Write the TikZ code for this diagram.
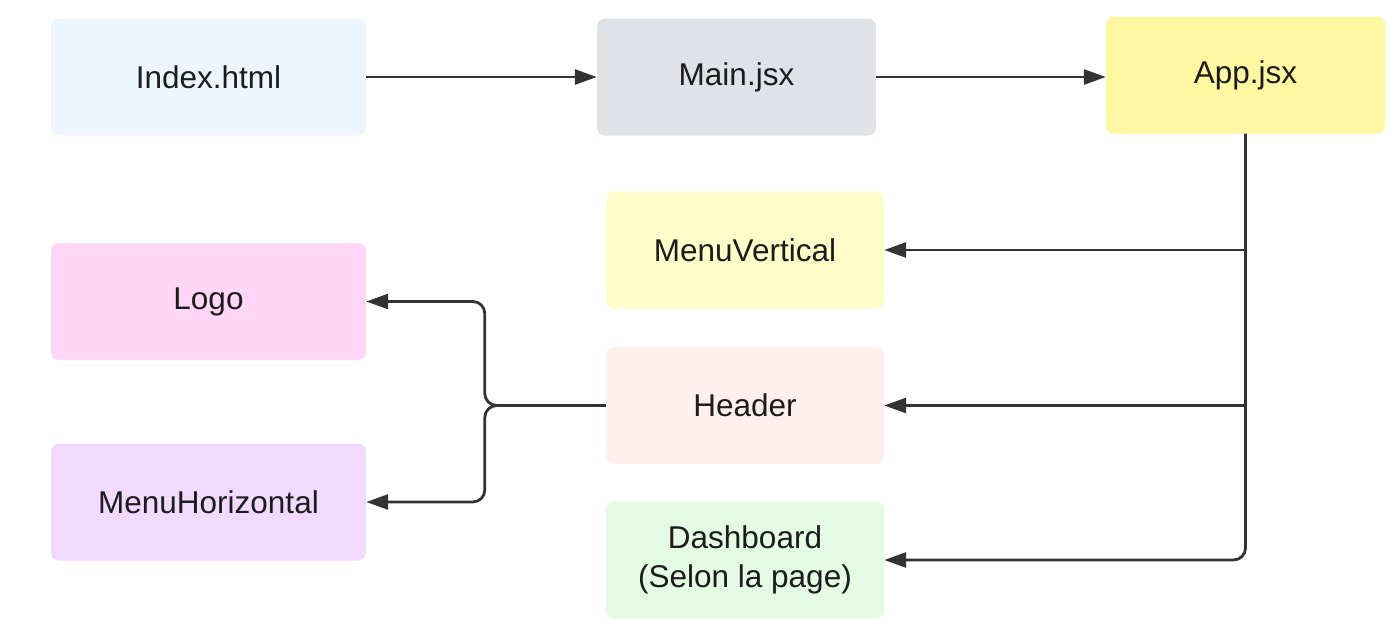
\documentclass[tikz,border=0pt]{standalone}
\usepackage{fontspec}
\setmainfont{Liberation Sans}
\usetikzlibrary{arrows.meta}
\definecolor{cidx}{HTML}{EDF5FF}
\definecolor{cmain}{HTML}{DFE3E8}
\definecolor{capp}{HTML}{FFF7A1}
\definecolor{cmv}{HTML}{FEFCC9}
\definecolor{chdr}{HTML}{FFEFEF}
\definecolor{cdash}{HTML}{E3FAE3}
\definecolor{clogo}{HTML}{FFD6F7}
\definecolor{cmh}{HTML}{F2D9FF}
\definecolor{cline}{HTML}{333333}
\definecolor{ctext}{HTML}{1C1C1C}
\begin{document}
\begin{tikzpicture}[x=1pt,y=-1pt,
  box/.style={rectangle, rounded corners=8pt, draw=none, inner sep=0pt,
    minimum height=117pt, text=ctext, align=center,
    font=\fontsize{31.5}{39.5}\selectfont},
  wide/.style={box, minimum width=315pt},
  narrow/.style={box, minimum width=279pt},
  conn/.style={draw=cline, line width=2.8pt, -{Triangle[length=22pt,width=15pt]}}
]
\useasboundingbox (0,0) rectangle (1397,637);
\node[wide, fill=cidx] (idx) at (208.5,77) {Index.html};
\node[narrow, fill=cmain] (main) at (736.5,77) {Main.jsx};
\node[narrow, fill=capp] (app) at (1245.5,75) {App.jsx};
\node[narrow, fill=cmv, minimum width=278pt] (mv) at (745,250) {MenuVertical};
\node[narrow, fill=chdr, minimum width=278pt] (hdr) at (745,405.5) {Header};
\node[narrow, fill=cdash, minimum width=278pt] (dash) at (745,560) {Dashboard\\(Selon la page)};
\node[wide, fill=clogo] (logo) at (208.5,301.5) {Logo};
\node[wide, fill=cmh] (mh) at (208.5,502) {MenuHorizontal};
\path (hdr.west) ++(-121,0) coordinate (fork);
\draw[conn] (idx.east) -- (main.west);
\draw[conn] (main.east) -- (main.east -| app.west);
\draw[conn, rounded corners=12pt] (app.south) -- (app.south |- dash.east) -- (dash.east);
\draw[conn] (app.south |- mv.east) -- (mv.east);
\draw[conn] (app.south |- hdr.east) -- (hdr.east);
\draw[conn, rounded corners=12pt] (hdr.west) -- (fork) |- (logo.east);
\draw[conn, rounded corners=12pt] (hdr.west) -- (fork) |- (mh.east);
\end{tikzpicture}
\end{document}
